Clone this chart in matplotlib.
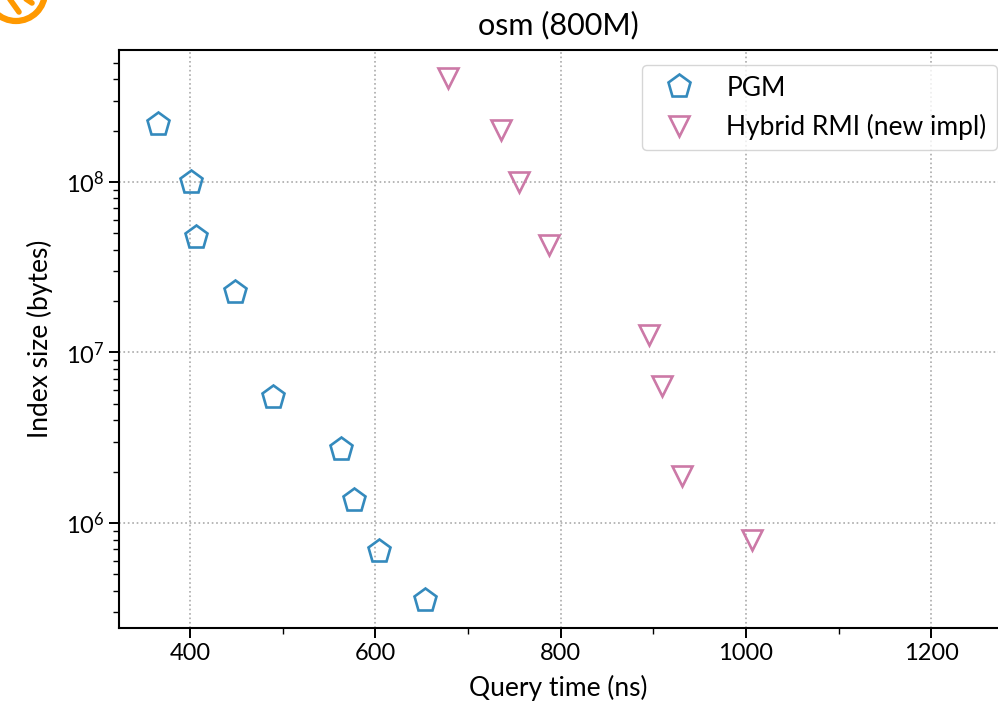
import matplotlib
matplotlib.use("Agg")
import matplotlib.pyplot as plt
from matplotlib.lines import Line2D
from matplotlib.patches import Arc
from matplotlib.ticker import MultipleLocator

plt.rcParams['font.family'] = ['Lato', 'DejaVu Sans']

pgm_time = [365, 401, 406, 449, 490, 563, 577, 604, 654]
pgm_size = [2.2e8, 1.0e8, 4.75e7, 2.26e7, 5.5e6, 2.73e6, 1.36e6, 6.85e5, 3.53e5]

rmi_time = [678, 736, 755, 787, 895, 909, 931, 1007]
rmi_size = [4.07e8, 2.02e8, 1.0e8, 4.27e7, 1.27e7, 6.4e6, 1.88e6, 7.95e5]

fig = plt.figure(figsize=(9.98, 7.07), dpi=100)
ax = fig.add_axes([0.1192, 0.1117, 0.8808, 0.8176])

ax.plot(pgm_time, pgm_size, linestyle='none', marker='p', ms=17,
        mfc='none', mec='#348ABD', mew=1.9, label='PGM')
ax.plot(rmi_time, rmi_size, linestyle='none', marker='v', ms=14,
        mfc='none', mec='#CC79A7', mew=1.9, label='Hybrid RMI (new impl)')

ax.set_yscale('log')
ax.set_xlim(323.4, 1272)
ax.set_ylim(10 ** 5.384, 10 ** 8.774)
ax.xaxis.set_major_locator(MultipleLocator(200))
ax.xaxis.set_minor_locator(MultipleLocator(100))

ax.grid(True, which='major', linestyle=':', color='#aaaaaa', linewidth=1.2)
ax.set_axisbelow(True)
ax.spines['right'].set_visible(False)
for s in ['left', 'bottom', 'top']:
    ax.spines[s].set_linewidth(1.5)
ax.tick_params(which='major', length=7, width=1.4, labelsize=17)
ax.tick_params(which='minor', length=4, width=1.0)

ax.set_title('osm (800M)', fontsize=22, pad=11)
ax.set_xlabel('Query time (ns)', fontsize=19, labelpad=8)
ax.set_ylabel('Index size (bytes)', fontsize=19, labelpad=9)

leg = ax.legend(loc='upper right', bbox_to_anchor=(997 / 998, (707 - 65) / 707),
                bbox_transform=fig.transFigure, borderaxespad=0, fontsize=19,
                fancybox=True, framealpha=0.8, edgecolor='#cccccc')

# orange logo fragment in the top-left corner
fig.patches.append(Arc((16 / 998, 1 + 8 / 707), 58 / 998, 58 / 707,
                       theta1=180, theta2=360, color='#FF9900', linewidth=4.5,
                       transform=fig.transFigure, figure=fig))
fig.lines.append(Line2D([9 / 998, 19 / 998], [1 + 2 / 707, 1 - 12 / 707],
                        color='#FF9900', linewidth=4.0, solid_capstyle='round',
                        transform=fig.transFigure, figure=fig))
fig.lines.append(Line2D([26 / 998, 32 / 998], [1 + 1 / 707, 1 - 3 / 707],
                        color='#FF9900', linewidth=4.0, solid_capstyle='round',
                        transform=fig.transFigure, figure=fig))

fig.savefig('out.png', dpi=100)
